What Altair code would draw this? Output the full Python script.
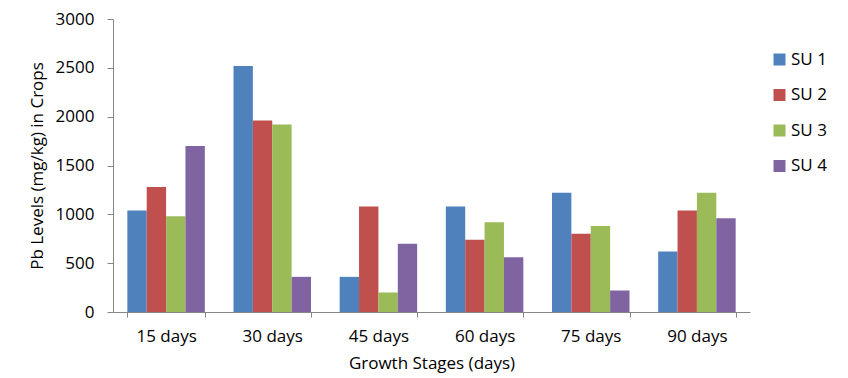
import altair as alt
import pandas as pd

stages = ["15 days", "30 days", "45 days", "60 days", "75 days", "90 days"]
series = ["SU 1", "SU 2", "SU 3", "SU 4"]
su1 = [1040, 2520, 360, 1080, 1220, 620]
su2 = [1280, 1960, 1080, 740, 800, 1040]
su3 = [980, 1920, 200, 920, 880, 1220]
su4 = [1700, 360, 700, 560, 220, 960]
colors = ["#4F81BD", "#C0504D", "#9BBB59", "#8064A2"]
y_ticks = [0, 500, 1000, 1500, 2000, 2500, 3000]

rows = []
for name, vals in zip(series, [su1, su2, su3, su4]):
    for st, v in zip(stages, vals):
        rows.append({"stage": st, "series": name, "value": v})
df = pd.DataFrame(rows)

FONT = "Open Sans"
FS = 17

chart = alt.Chart(df).mark_bar().encode(
    x=alt.X("stage:N", sort=stages,
            scale=alt.Scale(paddingInner=0.27, paddingOuter=0.135),
            axis=alt.Axis(title="Growth Stages (days)", labelAngle=0,
                          tickBand="extent", tickSize=5, labelPadding=11,
                          domainColor="#868686", tickColor="#868686",
                          labelFont=FONT, labelFontSize=FS, labelColor="#000000",
                          titleFont=FONT, titleFontSize=FS, titleFontWeight="normal",
                          titleColor="#000000", titleY=51, titleBaseline="middle")),
    xOffset=alt.XOffset("series:N", sort=series),
    y=alt.Y("value:Q", scale=alt.Scale(domain=[0, 3000]),
            axis=alt.Axis(title="Pb Levels (mg/kg) in Crops", values=y_ticks,
                          format="d", grid=False, tickSize=6, labelPadding=13,
                          domainColor="#868686", tickColor="#868686",
                          labelFont=FONT, labelFontSize=FS, labelColor="#000000",
                          titleFont=FONT, titleFontSize=FS, titleFontWeight="normal",
                          titleColor="#000000", titleX=-76, titleBaseline="middle")),
    color=alt.Color("series:N", sort=series,
                    scale=alt.Scale(domain=series, range=colors),
                    legend=alt.Legend(title=None, orient="none", legendX=658, legendY=32,
                                      symbolType="square", symbolSize=144,
                                      symbolStrokeWidth=0, labelFont=FONT,
                                      labelFontSize=FS, labelColor="#000000",
                                      rowPadding=17.5, labelOffset=3)),
).properties(
    width=637, height=293,
    autosize=alt.AutoSizeParams(type="none"),
    padding={"left": 105, "top": 11, "right": 90, "bottom": 65},
).configure_view(stroke=None)

chart.save("out.html", embed_options={"renderer": "svg", "actions": False})
